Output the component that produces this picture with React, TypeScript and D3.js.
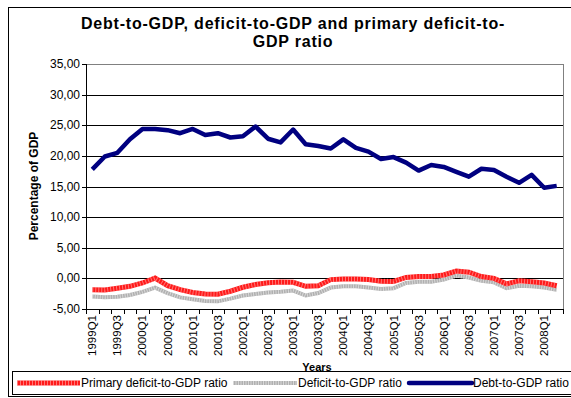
import React from "react";
import * as d3 from "d3";

const quarters: string[] = [];
for (let y = 1999; y <= 2008; y++) for (let q = 1; q <= 4; q++) quarters.push(`${y}Q${q}`);
const categories = quarters.slice(0, 38);

const debt = [17.8, 19.9, 20.5, 22.7, 24.4, 24.4, 24.2, 23.7, 24.4, 23.4, 23.7, 23.0, 23.2, 24.8, 22.8, 22.2, 24.3, 21.9, 21.6, 21.2, 22.7, 21.3, 20.7, 19.5, 19.8, 18.9, 17.6, 18.5, 18.2, 17.4, 16.6, 17.9, 17.7, 16.6, 15.6, 16.9, 14.8, 15.1];
const primary = [-1.85, -1.9, -1.6, -1.3, -0.75, 0.05, -1.2, -1.85, -2.3, -2.55, -2.6, -2.1, -1.45, -1.0, -0.7, -0.6, -0.65, -1.3, -1.2, -0.2, -0.1, -0.1, -0.2, -0.45, -0.5, 0.15, 0.3, 0.3, 0.55, 1.2, 1.0, 0.3, 0.0, -0.9, -0.4, -0.55, -0.75, -1.2];
const deficit = [-2.95, -3.1, -3.0, -2.7, -2.2, -1.5, -2.4, -3.1, -3.4, -3.7, -3.75, -3.3, -2.8, -2.55, -2.3, -2.2, -2.0, -2.8, -2.4, -1.5, -1.3, -1.3, -1.5, -1.75, -1.6, -0.75, -0.55, -0.55, -0.2, 0.45, 0.15, -0.4, -0.65, -1.6, -1.2, -1.3, -1.5, -1.85];
const yTicks = [-5, 0, 5, 10, 15, 20, 25, 30, 35];

const left = 86, right = 563, top = 64, bottom = 309;

export default function App() {
  const x = d3.scaleBand<string>().domain(categories).range([left, right]).padding(0);
  const y = d3.scaleLinear().domain([-5, 35]).range([bottom, top]);
  const cx = (i: number) => (x(categories[i]) as number) + x.bandwidth() / 2;
  const line = d3.line<number>().x((_, i) => cx(i)).y((d) => y(d));
  const fmt = (v: number) => v.toFixed(2).replace(".", ",");
  const font = "Liberation Sans, Arial, sans-serif";
  const boundaries = categories.map((c) => x(c) as number).concat([right]);
  const labelIdx = categories.map((_, i) => i).filter((i) => i % 2 === 0);

  return (
    <svg width={571} height={398} style={{ position: "absolute", left: 0, top: 0 }} fontFamily={font}>
      <rect x={0} y={0} width={571} height={398} fill="#fff" />
      <rect x={8.5} y={7.5} width={575} height={389} fill="#fff" stroke="#000" strokeWidth={1} />
      <text x={293} y={29} textAnchor="middle" fontSize={16} fontWeight="bold" letterSpacing={0.8}>Debt-to-GDP, deficit-to-GDP and primary deficit-to-</text>
      <text x={293} y={46.5} textAnchor="middle" fontSize={16} fontWeight="bold" letterSpacing={0.8}>GDP ratio</text>

      {yTicks.map((t) => (
        <g key={t}>
          <line x1={left} x2={right} y1={Math.round(y(t)) + 0.5} y2={Math.round(y(t)) + 0.5} stroke={t === 35 ? "#808080" : "#000"} strokeWidth={1} />
          <line x1={left - 4} x2={left} y1={Math.round(y(t)) + 0.5} y2={Math.round(y(t)) + 0.5} stroke="#000" />
          <text x={left - 6} y={y(t) + 4} textAnchor="end" fontSize={12}>{fmt(t)}</text>
        </g>
      ))}
      <line x1={right + 0.5} x2={right + 0.5} y1={top} y2={bottom} stroke="#808080" />
      <line x1={left + 0.5} x2={left + 0.5} y1={top} y2={bottom} stroke="#000" />
      {boundaries.map((b, i) => (
        <line key={i} x1={Math.round(b) + 0.5} x2={Math.round(b) + 0.5} y1={bottom} y2={bottom + 5} stroke="#000" />
      ))}
      {labelIdx.map((i) => (
        <text key={i} transform={`translate(${cx(i) + 4},${bottom + 6}) rotate(-90)`} textAnchor="end" fontSize={11.5}>{categories[i]}</text>
      ))}
      <text transform={`translate(38,186) rotate(-90)`} textAnchor="middle" fontSize={12} fontWeight="bold">Percentage of GDP</text>
      <text x={317} y={371} textAnchor="middle" fontSize={11} fontWeight="bold">Years</text>

      <path d={line(deficit) || ""} fill="none" stroke="#b0b0b0" strokeWidth={4} />
      <path d={line(deficit) || ""} fill="none" stroke="#fff" strokeWidth={4} strokeDasharray="1 1.5" opacity={0.5} />
      <path d={line(primary) || ""} fill="none" stroke="#ff1a1a" strokeWidth={5} />
      <path d={line(primary) || ""} fill="none" stroke="#fff" strokeWidth={5} strokeDasharray="1 2" opacity={0.4} />
      <path d={line(debt) || ""} fill="none" stroke="#000080" strokeWidth={4.5} strokeLinejoin="round" />

      <rect x={12.5} y={371.5} width={565} height={23} fill="#fff" stroke="#000" />
      <line x1={17} x2={80} y1={383} y2={383} stroke="#ff1a1a" strokeWidth={5} />
      <line x1={17} x2={80} y1={383} y2={383} stroke="#fff" strokeWidth={5} strokeDasharray="1 2" opacity={0.4} />
      <text x={81} y={387} fontSize={12}>Primary deficit-to-GDP ratio</text>
      <line x1={233} x2={297} y1={383} y2={383} stroke="#b0b0b0" strokeWidth={4} />
      <line x1={233} x2={297} y1={383} y2={383} stroke="#fff" strokeWidth={4} strokeDasharray="1 1.5" opacity={0.5} />
      <text x={298} y={387} fontSize={12}>Deficit-to-GDP ratio</text>
      <line x1={409} x2={472} y1={383} y2={383} stroke="#000080" strokeWidth={4.5} strokeLinecap="round" />
      <text x={473} y={387} fontSize={12}>Debt-to-GDP ratio</text>
    </svg>
  );
}
